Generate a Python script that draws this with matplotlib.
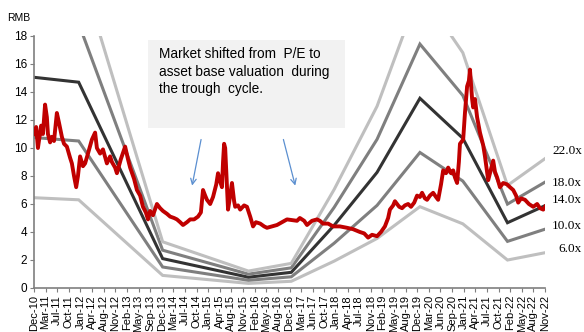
import numpy as np
import matplotlib
matplotlib.use("Agg")
import matplotlib.pyplot as plt
from matplotlib.patches import Rectangle
from matplotlib.transforms import blended_transform_factory

# x positions are months since Dec-10
price_month = [0.0, 0.6, 1.1, 2.0, 2.5, 3.1, 3.6, 3.9, 4.5, 5.0, 5.6, 6.4, 7.0, 7.8, 8.4, 9.2,
               10.1, 10.6, 11.2, 11.8, 12.3, 12.9, 13.7, 14.3, 15.1, 16.2, 17.1, 17.6, 18.5,
               19.3, 20.4, 21.3, 21.8, 22.7, 23.2, 24.3, 25.5, 26.3, 26.9, 28.0, 28.8, 29.7,
               30.5, 31.3, 31.9, 32.5, 33.3, 34.4, 35.3, 36.1, 37.2, 38.1, 39.2, 40.0, 40.9,
               41.7, 42.8, 43.7, 44.8, 45.9, 46.7, 47.3, 47.9, 48.4, 49.3, 50.1, 51.0, 51.5,
               52.1, 52.6, 52.9, 53.2, 53.5, 53.7, 54.3, 54.9, 55.4, 56.0, 56.3, 57.1, 57.7,
               58.8, 59.6, 60.5, 61.3, 62.1, 63.3, 64.4, 65.2, 66.6, 68.0, 69.4, 70.8, 72.2,
               73.6, 74.4, 75.6, 76.4, 77.8, 79.2, 80.0, 80.9, 82.3, 83.7, 85.6, 87.6, 89.3,
               91.2, 92.4, 93.5, 94.6, 96.0, 97.1, 98.2, 99.1, 99.6, 100.5, 101.0, 102.2,
               103.0, 103.8, 104.7, 105.5, 106.4, 107.2, 108.0, 108.6, 109.4, 110.0, 110.8,
               111.7, 112.5, 113.1, 113.9, 114.5, 115.3, 115.9, 116.7, 117.3, 117.8, 118.4,
               118.9, 119.2, 120.1, 120.6, 121.2, 121.7, 122.0, 122.6, 122.9, 123.4, 124.0,
               124.8, 125.7, 126.2, 127.1, 127.9, 128.5, 129.0, 129.6, 130.4, 131.3, 132.4,
               133.2, 134.1, 134.9, 135.5, 136.3, 137.4, 138.5, 139.7, 140.8, 141.6, 142.5,
               143.0]
price = [11.0, 11.5, 10.0, 11.6, 11.0, 13.1, 12.2, 11.0, 10.4, 10.8, 10.5, 12.5, 11.8, 10.8,
         10.3, 10.1, 9.3, 8.9, 8.0, 7.2, 8.0, 9.4, 8.7, 8.9, 9.6, 10.6, 11.1, 10.0, 9.6, 9.9,
         8.9, 9.4, 9.0, 8.6, 8.2, 9.2, 10.1, 9.2, 8.6, 7.8, 7.0, 6.6, 5.8, 5.4, 4.9, 5.5, 5.2,
         6.0, 5.7, 5.5, 5.3, 5.1, 5.0, 4.9, 4.7, 4.5, 4.7, 4.9, 4.9, 5.1, 5.4, 7.0, 6.6, 6.3,
         6.0, 6.5, 7.4, 8.2, 7.6, 7.2, 9.0, 10.3, 10.0, 8.9, 5.6, 6.6, 7.5, 6.2, 5.8, 5.9, 5.6,
         5.9, 5.8, 5.1, 4.4, 4.7, 4.6, 4.4, 4.3, 4.4, 4.5, 4.7, 4.9, 4.85, 4.8, 5.0, 4.8, 4.5,
         4.8, 4.9, 4.8, 4.6, 4.6, 4.4, 4.4, 4.3, 4.2, 4.0, 3.9, 3.6, 3.8, 3.7, 4.0, 4.4, 5.0,
         5.6, 5.9, 6.2, 5.8, 5.7, 5.9, 6.0, 5.8, 6.1, 6.6, 6.5, 6.8, 6.4, 6.3, 6.6, 6.8, 6.5,
         6.3, 7.4, 8.4, 8.2, 8.6, 8.2, 8.4, 7.9, 7.5, 9.0, 10.3, 10.6, 12.5, 14.4, 14.8, 15.6,
         13.5, 12.9, 13.5, 12.2, 11.1, 10.2, 9.4, 7.7, 8.5, 9.1, 8.3, 7.9, 7.2, 7.5, 7.4, 7.2,
         7.0, 6.6, 6.1, 6.4, 6.3, 6.0, 5.8, 6.0, 5.7, 5.6, 5.8]

# earnings per share at band vertices
eps_month = [0, 12.5, 36, 60, 72, 84, 96, 108, 120, 132.5, 143]
eps = [1.075, 1.05, 0.150, 0.055, 0.08, 0.32, 0.59, 0.968, 0.764, 0.333, 0.42]

multiples = [6, 10, 14, 18, 22]
band_colors = ['#bfbfbf', '#7f7f7f', '#333333', '#7f7f7f', '#bfbfbf']
band_label_y = [2.79, 4.43, 6.29, 7.5, 9.75]

tick_labels = ['Dec-10', 'Mar-11', 'Jul-11', 'Oct-11', 'Jan-12', 'Apr-12', 'Aug-12', 'Nov-12',
               'Feb-13', 'May-13', 'Sep-13', 'Dec-13', 'Mar-14', 'Jul-14', 'Oct-14', 'Jan-15',
               'Apr-15', 'Aug-15', 'Nov-15', 'Feb-16', 'May-16', 'Aug-16', 'Dec-16', 'Mar-17',
               'Jun-17', 'Oct-17', 'Jan-18', 'Apr-18', 'Jul-18', 'Nov-18', 'Feb-19', 'May-19',
               'Aug-19', 'Dec-19', 'Mar-20', 'Jun-20', 'Sep-20', 'Jan-21', 'Apr-21', 'Jul-21',
               'Oct-21', 'Feb-22', 'May-22', 'Aug-22', 'Nov-22']

plt.rcParams['font.family'] = ['Liberation Sans', 'DejaVu Sans']

fig = plt.figure(figsize=(5.84, 3.32), dpi=100)
ax = fig.add_axes([34/584, 1-288/332, (545-34)/584, (288-36)/332])

for m, c in zip(multiples, band_colors):
    ax.plot(eps_month, np.array(eps)*m, color=c, lw=2.2, solid_joinstyle='miter', zorder=2)

ax.plot(price_month, price, color='#c00000', lw=2.8, zorder=3)

ax.set_xlim(0, 143)
ax.set_ylim(0, 18)
ax.set_yticks(np.arange(0, 19, 2))
ax.set_xticks(np.linspace(0, 143, len(tick_labels)))
ax.set_xticklabels(tick_labels, rotation=90, fontsize=8)
ax.tick_params(axis='y', labelsize=8.5, length=3, color='#7f7f7f', pad=2)
ax.tick_params(axis='x', length=3, color='#7f7f7f', pad=2)
for s in ['top', 'right']:
    ax.spines[s].set_visible(False)
for s in ['left', 'bottom']:
    ax.spines[s].set_color('#7f7f7f')
    ax.spines[s].set_linewidth(1.2)

fig.text(7/584, 1-18/332, 'RMB', fontsize=7.5, va='center', ha='left')

# annotation box and arrows
ax.add_patch(Rectangle((31.9, 11.43), 55.1, 6.28, facecolor='#f2f2f2', edgecolor='none', zorder=4))
ax.text(35.0, 17.2, 'Market shifted from  P/E to\nasset base valuation  during\nthe trough  cycle.',
        fontsize=9.8, va='top', ha='left', linespacing=1.3, zorder=5)
for start, end in [((46.9, 10.8), (44.1, 7.12)), ((69.6, 10.8), (73.3, 7.12))]:
    ax.annotate('', xy=end, xytext=start,
                arrowprops=dict(arrowstyle='->', color='#5b8fd0', lw=0.9, mutation_scale=10))

tr = blended_transform_factory(ax.transAxes, ax.transData)
for m, yv in zip(multiples, band_label_y):
    ax.text(1.0724, yv, f'{m:.1f}x', transform=tr, ha='right', va='center',
            fontsize=9.5, family='Liberation Serif', clip_on=False)

fig.savefig('out.png', dpi=100)
